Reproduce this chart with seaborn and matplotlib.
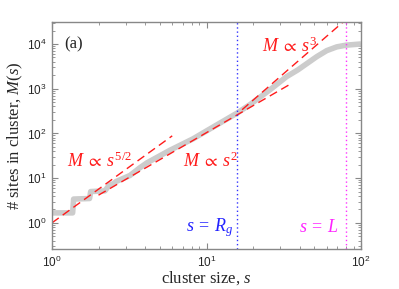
import numpy as np
import pandas as pd
import matplotlib
matplotlib.use("Agg")
import matplotlib.pyplot as plt
import seaborn as sns
from matplotlib.ticker import LogLocator, FixedLocator, FuncFormatter, NullFormatter

# ---- data ----
curve_s = [1.0, 1.36, 1.38, 1.75, 1.78, 2.2, 2.35, 2.5, 2.6, 3.2, 3.7, 4.12,
           5.8, 8.2, 10.6, 15.7, 19.1, 25.8, 33.0, 39.0, 51.7, 60.0, 69.6, 80.0, 100.0]
curve_M = [1.67, 1.67, 3.4, 3.5, 5.0, 5.2, 7.0, 7.5, 8.4, 11.5, 17.0, 22.0,
           42.0, 76.0, 128.0, 282.0, 440.0, 950.0, 1860.0, 2630.0, 5200.0, 7100.0, 8600.0, 9400.0, 10000.0]

fit52_s = [1.0, 6.0]      # M ~ s^(5/2)
fit52_c = 1.0
fit2_s = [2.0, 36.0]      # M ~ s^2
fit2_c = 1.04
fit3_s = [17.0, 90.0]     # M ~ s^3
fit3_c = 0.069

Rg = 15.8
L = 80.0

sns.set_style("ticks")
plt.rcParams.update({
    "font.family": ["Liberation Serif", "DejaVu Serif"],
    "mathtext.fontset": "custom",
    "mathtext.rm": "Liberation Serif",
    "mathtext.it": "Liberation Serif:italic",
    "mathtext.sf": "Liberation Sans",
    "mathtext.fallback": "stix",
})

fig = plt.figure(figsize=(3.99, 2.89), dpi=100)
ax = fig.add_axes([52/399, 1-249/289, (361-52)/399, (249-22)/289])

df_curve = pd.DataFrame({"s": curve_s, "M": curve_M})
sns.lineplot(data=df_curve, x="s", y="M", ax=ax, color="#cccccc", lw=4.0,
             solid_capstyle="butt", sort=False, estimator=None)

def fit_df(xs, c, p):
    s = np.array(xs)
    return pd.DataFrame({"s": s, "M": c * s ** p})

for xs, c, p in [(fit52_s, fit52_c, 2.5), (fit2_s, fit2_c, 2.0), (fit3_s, fit3_c, 3.0)]:
    sns.lineplot(data=fit_df(xs, c, p), x="s", y="M", ax=ax, color="#ff1a1a",
                 lw=1.0, dashes=False, estimator=None)
for ln in ax.lines[1:]:
    ln.set_dashes((6, 3.5))

ax.axvline(Rg, color="#3333ff", ls=(0, (1, 2)), lw=1.0)
ax.axvline(L, color="#ff33ff", ls=(0, (1, 2)), lw=1.0)

ax.set_xscale("log")
ax.set_yscale("log")
ax.set_xlim(1, 100)
ax.set_ylim(0.26, 3.1e4)

ax.xaxis.set_major_locator(FixedLocator([1, 10, 100]))
ax.yaxis.set_major_locator(FixedLocator([1, 10, 100, 1000, 10000]))
ax.xaxis.set_minor_locator(LogLocator(base=10, subs=np.arange(2, 10)))
ax.yaxis.set_minor_locator(LogLocator(base=10, subs=np.arange(2, 10), numticks=20))
ax.yaxis.set_minor_formatter(NullFormatter())
ax.xaxis.set_minor_formatter(NullFormatter())
fmt = FuncFormatter(lambda v, p: r"$\mathsf{10^{%d}}$" % int(round(np.log10(v))))
ax.xaxis.set_major_formatter(fmt)
ax.yaxis.set_major_formatter(fmt)

ax.tick_params(which="both", direction="in", top=True, right=True, color="#888888",
               labelsize=8.5, pad=4)
ax.tick_params(which="major", length=4)
ax.tick_params(which="minor", length=2)
for sp in ax.spines.values():
    sp.set_color("#888888")
    sp.set_linewidth(1.0)

ax.set_xlabel(r"cluster size, $s$", fontsize=12, labelpad=0)
ax.set_ylabel(r"# sites in cluster, $M(s)$", fontsize=12, labelpad=1)

red = "#ff1a1a"
ax.text(1.2, 1.0e4, "(a)", fontsize=12, va="center", ha="left")
ax.text(22.9, 6600, r"$M\;\propto\;s^{3}$", color=red, fontsize=13, va="baseline")
ax.text(1.245, 17.9, r"$M\;\propto\;s^{5/2}$", color=red, fontsize=13, va="baseline")
ax.text(7.08, 17.9, r"$M\;\propto\;s^{2}$", color=red, fontsize=13, va="baseline")
ax.text(14.85, 0.64, r"$s\:=\:R_g$", color="#2222ff", fontsize=13, va="baseline", ha="right")
ax.text(71, 0.64, r"$s\:=\:L$", color="#ff22ff", fontsize=13, va="baseline", ha="right")

fig.savefig("out.png", dpi=100)
